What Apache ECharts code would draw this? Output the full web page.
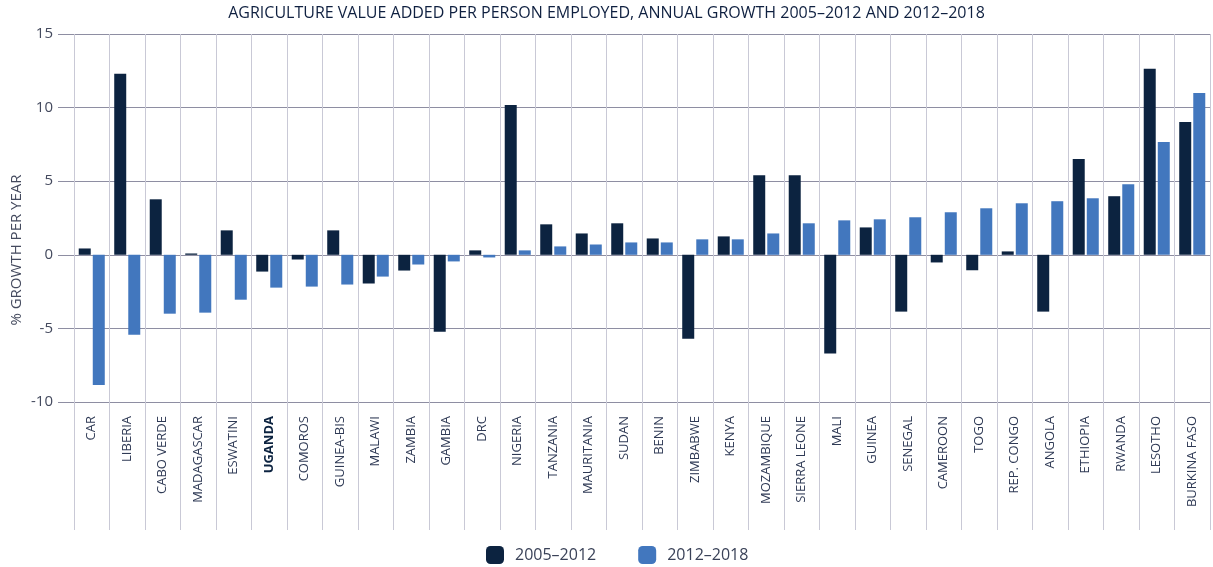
<!DOCTYPE html>
<html>
<head>
<meta charset="utf-8">
<script src="https://cdn.jsdelivr.net/npm/echarts@6/dist/echarts.min.js"></script>
<style>
html,body{margin:0;padding:0;background:#fff;}
#chart{width:1213px;height:567px;}
</style>
</head>
<body>
<div id="chart"></div>
<script>
const categories = ['CAR','LIBERIA','CABO VERDE','MADAGASCAR','ESWATINI','UGANDA','COMOROS','GUINEA-BIS','MALAWI','ZAMBIA','GAMBIA','DRC','NIGERIA','TANZANIA','MAURITANIA','SUDAN','BENIN','ZIMBABWE','KENYA','MOZAMBIQUE','SIERRA LEONE','MALI','GUINEA','SENEGAL','CAMEROON','TOGO','REP. CONGO','ANGOLA','ETHIOPIA','RWANDA','LESOTHO','BURKINA FASO'];
const growth2005_2012 = [0.43,12.3,3.77,0.09,1.66,-1.14,-0.32,1.66,-1.95,-1.07,-5.23,0.3,10.18,2.07,1.45,2.14,1.11,-5.7,1.25,5.41,5.41,-6.7,1.86,-3.86,-0.52,-1.05,0.23,-3.86,6.5,3.98,12.64,9.02];
const growth2012_2018 = [-8.84,-5.43,-4.0,-3.93,-3.05,-2.23,-2.16,-2.02,-1.48,-0.66,-0.45,-0.18,0.3,0.57,0.7,0.84,0.84,1.05,1.05,1.45,2.14,2.34,2.41,2.55,2.89,3.16,3.5,3.64,3.84,4.8,7.66,11.0];
const yTicks = [-10,-5,0,5,10,15];
const seriesNames = ['2005–2012','2012–2018'];
const titleText = 'AGRICULTURE VALUE ADDED PER PERSON EMPLOYED, ANNUAL GROWTH 2005–2012 AND 2012–2018';
const yName = '% GROWTH PER YEAR';

const FONT = '"Open Sans", "Noto Sans", sans-serif';
const chart = echarts.init(document.getElementById('chart'));
chart.setOption({
  animation: false,
  textStyle: {fontFamily: FONT},
  title: {
    text: titleText, left: 'center', top: 5, padding: 0,
    textStyle: {fontFamily: FONT, fontSize: 16, fontWeight: 'normal', color: '#0f2040'}
  },
  legend: {
    data: seriesNames, left: 486, top: 546, padding: 0,
    itemWidth: 18, itemHeight: 18, itemGap: 42,
    textStyle: {fontFamily: FONT, fontSize: 16, color: '#3a4258', padding: [0, 0, 0, 6]}
  },
  grid: {left: 74, right: 3, top: 34, bottom: 165, containLabel: false},
  xAxis: {
    type: 'category', data: categories,
    axisLine: {show: false, onZero: false},
    axisTick: {show: true, interval: 0, length: 128, lineStyle: {color: '#c9c9d6', width: 1}},
    splitLine: {show: true, interval: 0, lineStyle: {color: '#c9c9d6', width: 1}},
    axisLabel: {
      interval: 0, rotate: 90, margin: 14, fontSize: 13, color: '#2f3a55', fontFamily: FONT,
      formatter: function (v) { return v === 'UGANDA' ? '{b|' + v + '}' : v; },
      rich: {b: {fontWeight: 'bold', fontSize: 13, color: '#0c2340', fontFamily: FONT}}
    }
  },
  yAxis: {
    type: 'value', min: yTicks[0], max: yTicks[yTicks.length - 1], interval: 5,
    axisLine: {show: false},
    axisTick: {show: true, length: 16, lineStyle: {color: '#8e8ea2'}},
    splitLine: {show: true, lineStyle: {color: '#8e8ea2', width: 1}},
    axisLabel: {margin: 21, fontSize: 15, color: '#444a5e', fontFamily: FONT}
  },
  graphic: [{
    type: 'text', x: 17, y: 250, rotation: Math.PI / 2,
    style: {text: yName, fill: '#444a5e', font: '15px ' + FONT, textAlign: 'center', textVerticalAlign: 'middle'}
  }],
  series: [
    {name: seriesNames[0], type: 'bar', data: growth2005_2012, barWidth: 12, barGap: '17%', itemStyle: {color: '#0c2340'}},
    {name: seriesNames[1], type: 'bar', data: growth2012_2018, barWidth: 12, itemStyle: {color: '#4277be'}}
  ]
});
</script>
</body>
</html>
